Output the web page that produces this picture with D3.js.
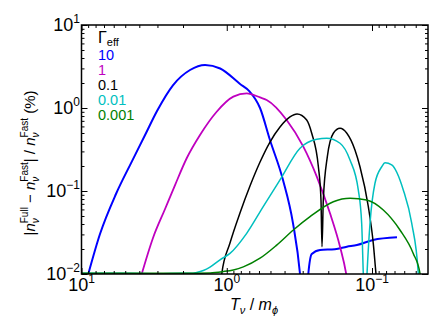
<!DOCTYPE html>
<html><head><meta charset="utf-8">
<script src="https://cdn.jsdelivr.net/npm/d3@7"></script>
<style>body{margin:0;background:#fff}svg{display:block}</style>
</head><body><svg id="c" width="447" height="335"></svg>
<script>
// ---- data (T_nu/m_phi, percent difference) ----
const gammaLabels = ["10", "1", "0.1", "0.01", "0.001"];
const seriesColors = ["#0000ff", "#bf00bf", "#000000", "#00bfbf", "#008000"];
const seriesWidths = [2, 1.8, 1.5, 1.5, 1.5];

const seriesG10 = [
  [8.98,0.0100],[7.46,0.0303],[5.79,0.092],[4.56,0.217],[3.65,0.473],[3.02,0.92],
  [2.34,1.89],[1.79,2.87],[1.41,3.30],[1.11,2.99],[0.81,1.95],[0.70,1.60],[0.59,1.0],
  [0.504,0.411],[0.410,0.136],[0.350,0.0411],[0.313,0.0100],[0.300,0.004],
  [0.285,0.004],[0.2745,0.0100],[0.260,0.0174],[0.228,0.0195],[0.180,0.0199],
  [0.149,0.0213],[0.127,0.0223],[0.0984,0.0257],[0.0673,0.0277]
];
const seriesG1 = [
  [3.85,0.0100],[3.22,0.0272],[2.66,0.0607],[2.27,0.118],[1.887,0.248],[1.528,0.473],
  [1.173,0.902],[0.901,1.37],[0.729,1.50],[0.590,1.34],[0.531,1.25],[0.387,0.717],
  [0.297,0.342],[0.240,0.149],[0.1946,0.0538],[0.166,0.0213],[0.151,0.0103],[0.146,0.007]
];
const seriesG01 = [
  [1.10,0.008],[1.083,0.0100],[0.950,0.0236],[0.811,0.0543],[0.692,0.1148],[0.590,0.2235],
  [0.504,0.389],[0.430,0.590],[0.367,0.780],[0.328,0.847],[0.2816,0.717],[0.260,0.496],[0.234,0.196],
  [0.2245,0.078],[0.2209,0.0213],[0.2164,0.078],[0.203,0.259],[0.1846,0.496],
  [0.166,0.569],[0.149,0.496],[0.131,0.312],[0.121,0.196],[0.106,0.0648],
  [0.098,0.0234],[0.0939,0.0101],[0.092,0.007]
];
const seriesG001 = [
  [10,0.0102],[5,0.0102],[3,0.0101],[2,0.0102],[1.707,0.0102],[1.61,0.0104],
  [1.45,0.0110],[1.304,0.0121],[1.113,0.0148],[0.950,0.0177],[0.729,0.0309],
  [0.561,0.0648],[0.430,0.136],[0.313,0.328],[0.240,0.420],[0.205,0.432],
  [0.166,0.376],[0.1417,0.236],[0.1243,0.103],[0.1178,0.0409],[0.1148,0.0101],
  [0.1115,0.003],[0.1082,0.0101],[0.1032,0.0409],[0.0954,0.124],[0.0857,0.196],
  [0.0814,0.219],[0.0732,0.206],[0.0609,0.103],[0.0533,0.0409],[0.048,0.0101],[0.0475,0.006]
];
const seriesG0001 = [
  [10,0.0102],[5,0.0102],[2,0.0102],[1.3,0.0103],[1.056,0.0107],[0.901,0.0112],
  [0.769,0.0122],[0.590,0.0155],[0.453,0.0223],[0.348,0.0339],[0.267,0.049],
  [0.1846,0.0743],[0.1417,0.0817],[0.1088,0.078],[0.0836,0.059],[0.0642,0.0339],
  [0.052,0.0177],[0.0467,0.0101],[0.0462,0.007]
];
const allSeries = [seriesG10, seriesG1, seriesG01, seriesG001, seriesG0001];

const xMajorTicks = [10, 1, 0.1];
const xTickExponents = ["1", "0", "\u22121"];
const yMajorTicks = [10, 1, 0.1, 0.01];
const yTickExponents = ["1", "0", "\u22121", "\u22122"];

// ---- layout ----
const L = 81.5, R = 428, T = 25, B = 274;
const FONT = "'Liberation Sans', Arial, sans-serif";
const svg = d3.select("#c");
const x = d3.scaleLog().domain([10, 0.04116]).range([L, R]);
const y = d3.scaleLog().domain([0.01, 10]).range([B, T]);

const minorX = [];
for (let e = -2; e <= 0; e++) for (let k = 1; k <= 9; k++) {
  const v = k * Math.pow(10, e);
  if (v >= 0.04116 && v <= 10 && !xMajorTicks.some(m => Math.abs(m - v) < 1e-9)) minorX.push(v);
}
const minorY = [];
for (let e = -2; e <= 0; e++) for (let k = 2; k <= 9; k++) minorY.push(k * Math.pow(10, e));

svg.append("defs").append("clipPath").attr("id", "clip")
  .append("rect").attr("x", L).attr("y", T).attr("width", R - L).attr("height", B - T);

// curves
const line = d3.line().x(d => x(d[0])).y(d => y(d[1])).curve(d3.curveMonotoneX);
const gc = svg.append("g").attr("clip-path", "url(#clip)");
allSeries.forEach((s, i) => {
  gc.append("path").datum(s).attr("d", line).attr("fill", "none")
    .attr("stroke", seriesColors[i]).attr("stroke-width", seriesWidths[i])
    .attr("stroke-linejoin", "round");
});

// axes ticks (inward, all four sides)
function styleAxis(g) {
  g.select(".domain").remove();
  g.selectAll("line").attr("stroke", "#000").attr("stroke-width", 1);
  g.selectAll("text").remove();
}
[[d3.axisBottom, B], [d3.axisTop, T]].forEach(([ax, pos]) => {
  svg.append("g").attr("transform", `translate(0,${pos})`)
    .call(ax(x).tickValues(xMajorTicks).tickSize(-6).tickFormat("")).call(styleAxis);
  svg.append("g").attr("transform", `translate(0,${pos})`)
    .call(ax(x).tickValues(minorX).tickSize(-3).tickFormat("")).call(styleAxis);
});
[[d3.axisLeft, L], [d3.axisRight, R]].forEach(([ax, pos]) => {
  svg.append("g").attr("transform", `translate(${pos},0)`)
    .call(ax(y).tickValues(yMajorTicks).tickSize(-6).tickFormat("")).call(styleAxis);
  svg.append("g").attr("transform", `translate(${pos},0)`)
    .call(ax(y).tickValues(minorY).tickSize(-3).tickFormat("")).call(styleAxis);
});

svg.append("rect").attr("x", L).attr("y", T).attr("width", R - L).attr("height", B - T)
  .attr("fill", "none").attr("stroke", "#000").attr("stroke-width", 1.5);

// tick labels
xMajorTicks.forEach((v, i) => {
  const t = svg.append("text").attr("x", x(v)).attr("y", 291).attr("text-anchor", "middle")
    .attr("font-family", FONT).attr("font-size", 18).attr("fill", "#000");
  t.append("tspan").text("10");
  t.append("tspan").attr("dy", -8).attr("font-size", 12).text(xTickExponents[i]);
});
yMajorTicks.forEach((v, i) => {
  const t = svg.append("text").attr("x", 80).attr("y", y(v) + 6).attr("text-anchor", "end")
    .attr("font-family", FONT).attr("font-size", 18).attr("fill", "#000");
  t.append("tspan").text("10");
  t.append("tspan").attr("dy", -8).attr("font-size", 12).text(yTickExponents[i]);
});

// legend
const lg = svg.append("text").attr("x", 98).attr("y", 43).attr("font-family", FONT)
  .attr("font-size", 16).attr("fill", "#000");
lg.append("tspan").text("\u0393");
lg.append("tspan").attr("dy", 3).attr("font-size", 11).text("eff");
gammaLabels.forEach((g, i) => {
  svg.append("text").attr("x", 98).attr("y", 60 + 15 * i).attr("font-family", FONT)
    .attr("font-size", 14.5).attr("fill", seriesColors[i]).text(g);
});

// x label
const xl = svg.append("text").attr("x", 254).attr("y", 310).attr("text-anchor", "middle")
  .attr("font-family", FONT).attr("font-size", 16).attr("fill", "#000");
xl.append("tspan").attr("font-style", "italic").text("T");
xl.append("tspan").attr("dy", 4).attr("font-size", 11).attr("font-style", "italic").text("\u03bd");
xl.append("tspan").attr("dy", -4).text(" / ");
xl.append("tspan").attr("font-style", "italic").text("m");
xl.append("tspan").attr("dy", 4).attr("font-size", 11).attr("font-style", "italic").text("\u03d5");

// y label
const yl = svg.append("text").attr("transform", "translate(35,163) rotate(-90)")
  .attr("text-anchor", "middle").attr("font-family", FONT).attr("font-size", 15).attr("fill", "#000");
function nTerm(sup) {
  yl.append("tspan").attr("font-style", "italic").text("n");
  yl.append("tspan").attr("dy", 4).attr("font-size", 10).attr("font-style", "italic").text("\u03bd");
  yl.append("tspan").attr("dx", -5).attr("dy", -11).attr("font-size", 10).text(sup);
}
yl.append("tspan").text("|");
nTerm("Full");
yl.append("tspan").attr("dy", 7).text(" \u2212 ");
nTerm("Fast");
yl.append("tspan").attr("dy", 7).text("| / ");
nTerm("Fast");
yl.append("tspan").attr("dy", 7).text(" (%)");
</script></body></html>
